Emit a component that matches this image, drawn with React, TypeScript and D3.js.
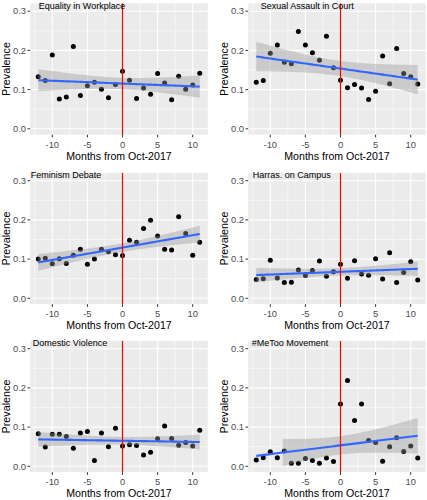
import React from "react";
import * as d3 from "d3";

const months = [-12, -11, -10, -9, -8, -7, -6, -5, -4, -3, -2, -1, 0, 1, 2, 3, 4, 5, 6, 7, 8, 9, 10, 11];

const titles = [
  "Equality in Workplace",
  "Sexual Assault in Court",
  "Feminism Debate",
  "Harras. on Campus",
  "Domestic Violence",
  "#MeToo Movement",
];

const equality = [0.133, 0.123, 0.188, 0.076, 0.081, 0.21, 0.085, 0.11, 0.119, 0.101, 0.079, 0.113, 0.147, 0.124, 0.077, 0.104, 0.088, 0.141, 0.117, 0.074, 0.134, 0.101, 0.112, 0.142];
const assault = [0.119, 0.123, 0.193, 0.214, 0.17, 0.166, 0.248, 0.214, 0.194, 0.175, 0.236, 0.156, 0.124, 0.105, 0.113, 0.104, 0.075, 0.096, 0.186, 0.115, 0.205, 0.141, 0.133, 0.114];
const feminism = [0.1, 0.102, 0.088, 0.101, 0.089, 0.11, 0.125, 0.087, 0.1, 0.125, 0.119, 0.111, 0.109, 0.148, 0.143, 0.178, 0.199, 0.159, 0.125, 0.123, 0.208, 0.165, 0.11, 0.143];
const campus = [0.048, 0.05, 0.097, 0.052, 0.04, 0.041, 0.072, 0.058, 0.071, 0.095, 0.056, 0.068, 0.087, 0.051, 0.096, 0.062, 0.059, 0.101, 0.049, 0.116, 0.04, 0.066, 0.093, 0.047];
const domestic = [0.083, 0.049, 0.082, 0.082, 0.076, 0.046, 0.085, 0.089, 0.015, 0.085, 0.05, 0.097, 0.052, 0.055, 0.053, 0.029, 0.036, 0.07, 0.103, 0.071, 0.054, 0.061, 0.052, 0.092];
const metoo = [0.016, 0.022, 0.037, 0.022, 0.039, 0.008, 0.008, 0.02, 0.015, 0.008, 0.021, 0.012, 0.159, 0.219, 0.117, 0.159, 0.066, 0.061, 0.013, 0.05, 0.073, 0.038, 0.052, 0.021];

const seriesList = [equality, assault, feminism, campus, domestic, metoo];

const xTicks = [-10, -5, 0, 5, 10];
const xMinor = [-12.5, -7.5, -2.5, 2.5, 7.5];
const yTicks = [0.0, 0.1, 0.2, 0.3];
const yMinor = [0.05, 0.15, 0.25];

// layout (pixels)
const colZero = [122.5, 340.5];
const pxX = 7.02;
const rowTop = [0, 169.5, 337.5];
const yZero = 128.8;
const pxY = 392;
const titleOffset = [8.6, 12.6, 0.6, 4.6, 2.6, 3.6];

const FONT = "'Liberation Sans', Arial, Helvetica, sans-serif";
const T975 = 2.0739; // t quantile, df = 22

function fitLm(xs: number[], ys: number[]) {
  const n = xs.length;
  const mx = d3.mean(xs) as number;
  const my = d3.mean(ys) as number;
  let sxx = 0, sxy = 0;
  xs.forEach((x, i) => { sxx += (x - mx) ** 2; sxy += (x - mx) * (ys[i] - my); });
  const b = sxy / sxx;
  const a = my - b * mx;
  let rss = 0;
  xs.forEach((x, i) => { rss += (ys[i] - (a + b * x)) ** 2; });
  const s = Math.sqrt(rss / (n - 2));
  const lo = d3.min(xs) as number, hi = d3.max(xs) as number;
  const grid = d3.range(80).map((i) => lo + ((hi - lo) * i) / 79);
  return grid.map((x) => {
    const f = a + b * x;
    const se = s * Math.sqrt(1 / n + (x - mx) ** 2 / sxx);
    return { x, f, lo: f - T975 * se, hi: f + T975 * se };
  });
}

function Panel({ idx }: { idx: number }) {
  const col = idx % 2;
  const row = Math.floor(idx / 2);
  const top = rowTop[row];
  const x = d3.scaleLinear().domain([-13.15, 12.15]).range([colZero[col] - 13.15 * pxX, colZero[col] + 12.15 * pxX]);
  const y = d3.scaleLinear().domain([0, 0.3]).range([top + yZero, top + yZero - 0.3 * pxY]);
  const vals = seriesList[idx];
  const fit = fitLm(months, vals);
  const band = fit.filter((d) => d.lo >= 0 && d.hi <= 0.3);
  const area = d3.area<any>().x((d) => x(d.x)).y0((d) => y(d.lo)).y1((d) => y(d.hi));
  const line = d3.line<any>().x((d) => x(d.x)).y((d) => y(d.f));
  const [xl, xr] = x.range();
  const yt = y(0.32), yb = y(-0.015);
  return (
    <g>
      <rect x={xl} y={yt} width={xr - xl} height={yb - yt} fill="#EBEBEB" />
      {yMinor.map((v) => (
        <line key={"ym" + v} x1={xl} x2={xr} y1={y(v)} y2={y(v)} stroke="#fff" strokeWidth={0.55} />
      ))}
      {xMinor.map((v) => (
        <line key={"xm" + v} x1={x(v)} x2={x(v)} y1={yt} y2={yb} stroke="#fff" strokeWidth={0.55} />
      ))}
      {yTicks.map((v) => (
        <line key={"yM" + v} x1={xl} x2={xr} y1={y(v)} y2={y(v)} stroke="#fff" strokeWidth={1.07} />
      ))}
      {xTicks.map((v) => (
        <line key={"xM" + v} x1={x(v)} x2={x(v)} y1={yt} y2={yb} stroke="#fff" strokeWidth={1.07} />
      ))}
      {months.map((m, i) => (
        <circle key={"p" + m} cx={x(m)} cy={y(vals[i])} r={2.5} fill="#000" />
      ))}
      {band.length > 1 && <path d={area(band) as string} fill="#999999" fillOpacity={0.4} />}
      <path d={line(fit) as string} fill="none" stroke="#3366FF" strokeWidth={2.1} />
      <line x1={x(0)} x2={x(0)} y1={yt} y2={yb} stroke="#FF0000" strokeWidth={1.2} />
      <text x={xl + titleOffset[idx]} y={top + 8.6} fontFamily={FONT} fontSize={9} fill="#000">
        {titles[idx]}
      </text>
      {yTicks.map((v) => (
        <g key={"yt" + v}>
          <line x1={xl - 2.7} x2={xl} y1={y(v)} y2={y(v)} stroke="#333" strokeWidth={1} />
          <text x={xl - 4.2} y={y(v)} dy="0.35em" textAnchor="end" fontFamily={FONT} fontSize={9.4} fill="#4D4D4D">
            {d3.format(".1f")(v)}
          </text>
        </g>
      ))}
      {xTicks.map((v) => (
        <g key={"xt" + v}>
          <line x1={x(v)} x2={x(v)} y1={yb} y2={yb + 2.7} stroke="#333" strokeWidth={1} />
          <text x={x(v)} y={top + 147.6} textAnchor="middle" fontFamily={FONT} fontSize={9.4} fill="#4D4D4D">
            {String(v)}
          </text>
        </g>
      ))}
      <text x={(xl + xr) / 2} y={Math.min(top + 159.8, 497.4)} textAnchor="middle" fontFamily={FONT} fontSize={10.6} fill="#000">
        Months from Oct-2017
      </text>
      <text
        transform={`translate(${col === 0 ? 10.3 : 228.3},${(yt + yb) / 2}) rotate(-90)`}
        textAnchor="middle"
        fontFamily={FONT}
        fontSize={10.8}
        fill="#000"
      >
        Prevalence
      </text>
    </g>
  );
}

export default function App() {
  return (
    <svg width={427} height={500} style={{ position: "absolute", left: 0, top: 0, background: "#fff" }}>
      <rect width={427} height={500} fill="#fff" />
      {titles.map((_, i) => (
        <Panel key={i} idx={i} />
      ))}
    </svg>
  );
}
